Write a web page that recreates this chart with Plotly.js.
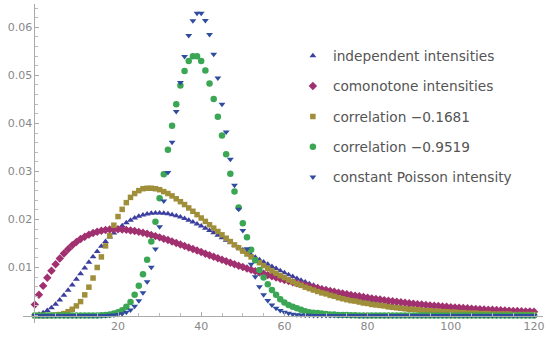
<!DOCTYPE html>
<html>
<head>
<meta charset="utf-8">
<script src="https://cdn.plot.ly/plotly-3.0.1.min.js"></script>
<style>html,body{margin:0;padding:0;background:#fff;}#chart{width:550px;height:338px;}</style>
</head>
<body>
<div id="chart"></div>
<script>
const xValues = [0,1,2,3,4,5,6,7,8,9,10,11,12,13,14,15,16,17,18,19,20,21,22,23,24,25,26,27,28,29,30,31,32,33,34,35,36,37,38,39,40,41,42,43,44,45,46,47,48,49,50,51,52,53,54,55,56,57,58,59,60,61,62,63,64,65,66,67,68,69,70,71,72,73,74,75,76,77,78,79,80,81,82,83,84,85,86,87,88,89,90,91,92,93,94,95,96,97,98,99,100,101,102,103,104,105,106,107,108,109,110,111,112,113,114,115,116,117,118,119,120];

const independent = [0.00007,0.00025,0.00056,0.00103,0.00163,0.00237,0.00324,0.00421,0.00526,0.00637,0.00753,0.00871,0.00990,0.01108,0.01223,0.01334,0.01440,0.01540,0.01634,0.01720,0.01798,0.01868,0.01930,0.01983,0.02028,0.02065,0.02094,0.02115,0.02129,0.02136,0.02136,0.02129,0.02117,0.02100,0.02077,0.02050,0.02019,0.01985,0.01947,0.01906,0.01862,0.01817,0.01770,0.01721,0.01671,0.01621,0.01569,0.01518,0.01466,0.01414,0.01363,0.01312,0.01262,0.01212,0.01163,0.01115,0.01068,0.01022,0.00977,0.00933,0.00891,0.00850,0.00810,0.00771,0.00734,0.00698,0.00663,0.00630,0.00598,0.00567,0.00538,0.00510,0.00483,0.00457,0.00432,0.00409,0.00386,0.00365,0.00344,0.00325,0.00306,0.00289,0.00272,0.00256,0.00241,0.00227,0.00214,0.00201,0.00189,0.00178,0.00167,0.00157,0.00147,0.00138,0.00129,0.00121,0.00114,0.00107,0.00100,0.00094,0.00088,0.00082,0.00077,0.00072,0.00067,0.00063,0.00059,0.00055,0.00051,0.00048,0.00045,0.00042,0.00039,0.00036,0.00034,0.00032,0.00030,0.00028,0.00026,0.00024,0.00022];

const comonotone = [0.00227,0.00432,0.00617,0.00784,0.00933,0.01066,0.01185,0.01289,0.01381,0.01462,0.01531,0.01591,0.01642,0.01684,0.01718,0.01745,0.01766,0.01781,0.01790,0.01795,0.01795,0.01791,0.01783,0.01772,0.01758,0.01741,0.01722,0.01701,0.01678,0.01653,0.01627,0.01599,0.01570,0.01541,0.01511,0.01480,0.01449,0.01417,0.01385,0.01353,0.01321,0.01288,0.01256,0.01224,0.01193,0.01161,0.01130,0.01099,0.01068,0.01038,0.01009,0.00979,0.00951,0.00922,0.00895,0.00868,0.00841,0.00815,0.00790,0.00765,0.00741,0.00717,0.00694,0.00671,0.00649,0.00628,0.00607,0.00587,0.00567,0.00548,0.00529,0.00511,0.00494,0.00476,0.00460,0.00444,0.00428,0.00413,0.00399,0.00384,0.00371,0.00357,0.00344,0.00332,0.00320,0.00308,0.00297,0.00286,0.00276,0.00265,0.00256,0.00246,0.00237,0.00228,0.00220,0.00211,0.00203,0.00196,0.00188,0.00181,0.00174,0.00168,0.00161,0.00155,0.00149,0.00143,0.00138,0.00132,0.00127,0.00122,0.00118,0.00113,0.00109,0.00104,0.00100,0.00096,0.00092,0.00089,0.00085,0.00082,0.00079];

const corrWeak = [0,0,0,0.00001,0.00003,0.0001,0.0002,0.0004,0.0008,0.0013,0.0020,0.0029,0.0043,0.0059,0.0078,0.0100,0.0122,0.0145,0.0166,0.0188,0.0206,0.0221,0.0235,0.0246,0.0254,0.0260,0.0264,0.0265,0.0265,0.0264,0.0262,0.0258,0.0254,0.0249,0.0243,0.0237,0.0231,0.0224,0.0217,0.0210,0.0203,0.0196,0.0189,0.0182,0.0175,0.0168,0.0161,0.0154,0.0147,0.0141,0.0134,0.0128,0.0122,0.0116,0.0110,0.0104,0.0098,0.0093,0.0088,0.0083,0.0079,0.0074,0.0070,0.0066,0.0063,0.0059,0.0056,0.0053,0.0050,0.0047,0.0045,0.0042,0.0040,0.0037,0.0035,0.0033,0.0031,0.0030,0.0028,0.0026,0.0025,0.0023,0.0022,0.0021,0.0020,0.0018,0.0017,0.0016,0.0015,0.0014,0.0013,0.0013,0.0012,0.0011,0.0010,0.0010,0.0009,0.0009,0.0008,0.0008,0.0007,0.0007,0.0006,0.0006,0.0005,0.0005,0.0005,0.0004,0.0004,0.0004,0.0003,0.0003,0.0003,0.0003,0.0003,0.0002,0.0002,0.0002,0.0002,0.0002,0.0002];

const corrStrong = [0,0,0,0,0,0,0,0,0,0,0,0,0,0,0,0,0.00005,0.0001,0.0002,0.0004,0.0007,0.0011,0.0018,0.0028,0.0043,0.0062,0.0086,0.0116,0.0154,0.0195,0.0244,0.0294,0.0345,0.0395,0.0440,0.0479,0.0509,0.0530,0.0540,0.0540,0.0530,0.0510,0.0483,0.0451,0.0414,0.0375,0.0336,0.0295,0.0258,0.0225,0.0192,0.0163,0.0137,0.0115,0.0095,0.0079,0.0065,0.0053,0.0043,0.0034,0.0027,0.0022,0.0018,0.0015,0.0012,0.0009,0.0007,0.0006,0.0005,0.0004,0.0003,0.0002,0.0002,0.0001,0.0001,0.0001,0.00005,0.00005,0,0,0,0,0,0,0,0,0,0,0,0,0,0,0,0,0,0,0,0,0,0,0,0,0,0,0,0,0,0,0,0,0,0,0,0,0,0,0,0,0,0,0];

const constantPoisson = [0,0,0,0,0,0,0,0,0,0,0,0,0,0,0,0.000004,0.000009,0.000021,0.000046,0.000096,0.000192,0.000366,0.000665,0.001156,0.001927,0.003084,0.004744,0.007028,0.010040,0.013849,0.018465,0.023826,0.029783,0.036100,0.042471,0.048538,0.053931,0.058304,0.061373,0.062947,0.062947,0.061412,0.058488,0.054407,0.049461,0.043965,0.038230,0.032536,0.027113,0.022133,0.017707,0.013888,0.010683,0.008063,0.005972,0.004344,0.003103,0.002177,0.001501,0.001018,0.000679,0.000445,0.000287,0.000182,0.000114,0.000070,0.000042,0.000025,0.000015,0.000009,0.000005,0,0,0,0,0,0,0,0,0,0,0,0,0,0,0,0,0,0,0,0,0,0,0,0,0,0,0,0,0,0,0,0,0,0,0,0,0,0,0,0,0,0,0,0,0,0,0,0,0,0,0];

const seriesNames = ["independent intensities","comonotone intensities","correlation \u22120.1681","correlation \u22120.9519","constant Poisson intensity"];
const xTickVals = [20,40,60,80,100,120];
const xTickText = ["20","40","60","80","100","120"];
const yTickVals = [0.01,0.02,0.03,0.04,0.05,0.06];
const yTickText = ["0.01","0.02","0.03","0.04","0.05","0.06"];

const seriesData = [independent, comonotone, corrWeak, corrStrong, constantPoisson];
const colors = ["#3c3ea0","#a0306f","#a08f3a","#3ba653","#2f4c9e"];
const symbols = ["triangle-up","diamond","square","circle","triangle-down"];
const sizes = [6,6.5,5.5,6.5,6];

const traces = seriesData.map((ys, i) => ({
  type: "scatter",
  mode: "markers",
  x: xValues,
  y: ys,
  name: seriesNames[i],
  legendgroup: "g" + i,
  cliponaxis: false,
  marker: {symbol: symbols[i], color: colors[i], size: sizes[i], line: {width: 0}}
}));

const axisFont = {family: "DejaVu Sans", size: 11, color: "#888"};

const layout = {
  width: 550, height: 338,
  margin: {l: 23, r: 7, t: 4, b: 15},
  paper_bgcolor: "#fff", plot_bgcolor: "#fff",
  showlegend: true,
  legend: {
    x: 0.519, y: 0.886, xanchor: "left", yanchor: "top",
    font: {family: "DejaVu Sans", size: 13.7, color: "#555"},
    tracegroupgap: 9.5, traceorder: "grouped",
    bgcolor: "rgba(0,0,0,0)"
  },
  xaxis: {
    range: [-2.84, 122.16],
    anchor: "free", position: 0.0235,
    showgrid: false, zeroline: false,
    showline: true, linecolor: "#aaa", linewidth: 1,
    tickmode: "array", tickvals: xTickVals, ticktext: xTickText,
    ticks: "inside", ticklen: 4, tickcolor: "#aaa", tickwidth: 1,
    minor: {ticks: "inside", ticklen: 2.5, tickcolor: "#bbb", dtick: 5, tick0: 0, showgrid: false},
    tickfont: axisFont
  },
  yaxis: {
    range: [-0.00156, 0.06486],
    anchor: "free", position: 0.0219,
    showgrid: false, zeroline: false,
    showline: true, linecolor: "#aaa", linewidth: 1,
    tickmode: "array", tickvals: yTickVals, ticktext: yTickText,
    ticks: "inside", ticklen: 4, tickcolor: "#aaa", tickwidth: 1,
    minor: {ticks: "inside", ticklen: 2.5, tickcolor: "#bbb", dtick: 0.002, tick0: 0, showgrid: false},
    tickfont: axisFont
  }
};

Plotly.newPlot("chart", traces, layout, {staticPlot: true, displayModeBar: false});
</script>
</body>
</html>
